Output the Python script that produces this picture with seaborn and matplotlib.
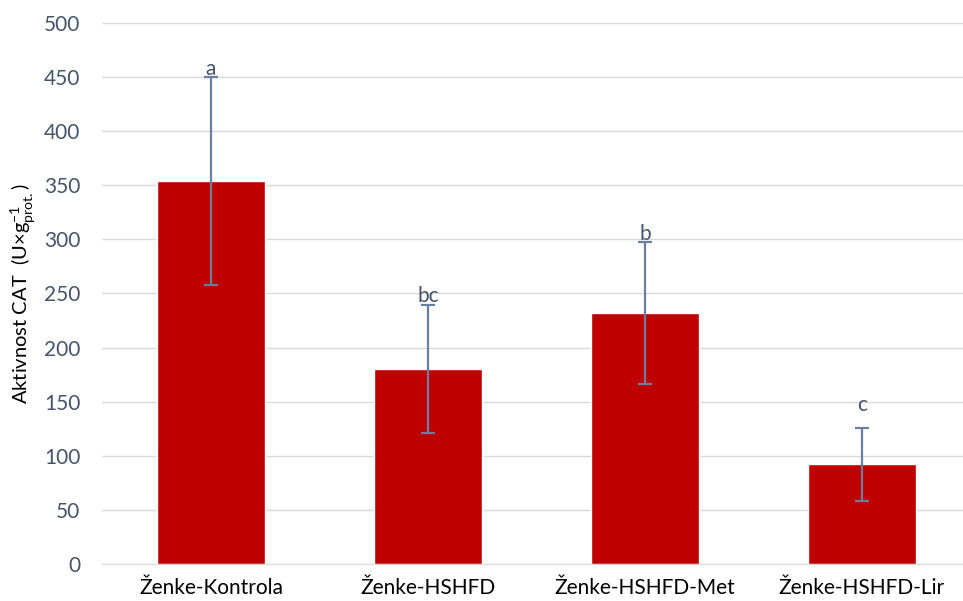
import numpy as np
import pandas as pd
import seaborn as sns
import matplotlib.pyplot as plt

groups = ['Ženke-Kontrola', 'Ženke-HSHFD', 'Ženke-HSHFD-Met', 'Ženke-HSHFD-Lir']
means = [354, 180, 232, 92]
sds = [96, 59, 66, 34]
letters = ['a', 'bc', 'b', 'c']
letter_y = [448, 238, 296, 138]

df = pd.DataFrame({'grupa': groups, 'cat': means})

sns.set_style('white')
plt.rcParams['font.family'] = ['Lato', 'DejaVu Sans']
plt.rcParams['mathtext.fontset'] = 'custom'
plt.rcParams['mathtext.rm'] = 'Lato'

fig = plt.figure(figsize=(9.63, 6.01), dpi=100)
ax = fig.add_axes([0.1064, 0.0616, 0.9013, 0.9002])

sns.barplot(data=df, x='grupa', y='cat', color='#C00000', saturation=1,
            width=0.5, ax=ax, zorder=2)
ax.errorbar(np.arange(len(groups)), means, yerr=sds, fmt='none',
            ecolor='#6A7F9E', elinewidth=1.6, capsize=5, capthick=1.6, zorder=3)
for i, (t, yy) in enumerate(zip(letters, letter_y)):
    ax.text(i, yy, t, ha='center', va='bottom', fontsize=15, color='#44546A', zorder=4)

ax.set_xlim(-0.5, 3.5)
ax.set_ylim(0, 500)
ax.set_yticks(range(0, 501, 50))
ax.yaxis.grid(True, color='#D9D9D9', linewidth=1)
ax.set_axisbelow(True)
for s in ['top', 'right', 'left']:
    ax.spines[s].set_visible(False)
ax.spines['bottom'].set_color('#D9D9D9')
ax.tick_params(axis='y', labelsize=15, labelcolor='#44546A', length=0, pad=16)
ax.tick_params(axis='x', labelsize=15, labelcolor='black', length=0, pad=10)
ax.set_xlabel('')
ax.set_ylabel(r'Aktivnost CAT  (U×g$^{\mathregular{-1}}_{\mathregular{prot.}}$)',
              fontsize=14.5, color='black', labelpad=4)

plt.savefig('out.png', dpi=100)
